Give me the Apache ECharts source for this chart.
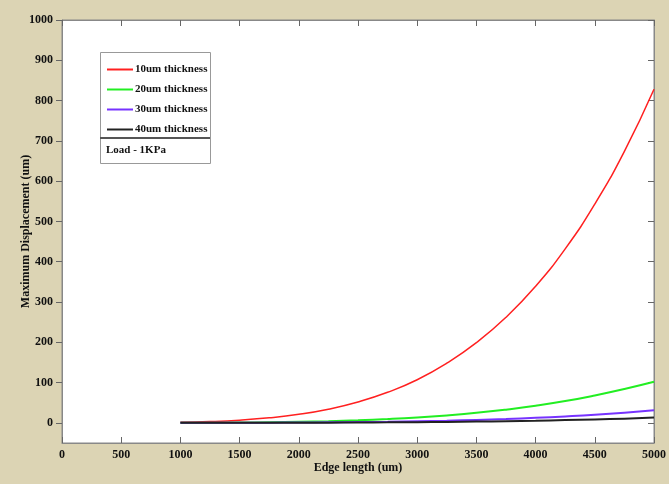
<!DOCTYPE html>
<html>
<head>
<meta charset="utf-8">
<script src="https://cdn.jsdelivr.net/npm/echarts@6/dist/echarts.min.js"></script>
<style>
  html, body { margin: 0; padding: 0; background: #dcd4b4; overflow: hidden; }
  #chart { width: 669px; height: 484px; }
</style>
</head>
<body>
<div id="chart"></div>
<script>
// edge length (um) and max displacement (um) for each thickness
const edgeLength = [1000, 1250, 1500, 1750, 2000, 2250, 2500, 2750, 3000, 3250, 3500, 3750, 4000, 4250, 4500, 4750, 5000];
const t10 = [1.3, 3.2, 6.7, 12.4, 21.2, 34, 51.8, 75.8, 107, 148, 199, 262, 339, 432, 543, 674, 828];
const t20 = [0.2, 0.4, 0.8, 1.6, 2.7, 4.2, 6.5, 9.5, 13.4, 18.5, 24.8, 32.8, 42.4, 54, 68, 84, 102];
const t30 = [0.05, 0.1, 0.25, 0.5, 0.8, 1.3, 1.9, 2.8, 4, 5.5, 7.4, 9.7, 12.6, 16, 20, 25, 31];
const t40 = [0.02, 0.05, 0.1, 0.2, 0.3, 0.5, 0.8, 1.2, 1.7, 2.3, 3.1, 4.1, 5.3, 6.8, 8.5, 10.5, 13];
const seriesNames = ['10um thickness', '20um thickness', '30um thickness', '40um thickness'];
const seriesColors = ['#ff2020', '#22ee22', '#7733ff', '#222222'];
const yTicks = [0, 100, 200, 300, 400, 500, 600, 700, 800, 900, 1000];

const pairs = arr => edgeLength.map((x, i) => [x, arr[i]]);
const font = { fontFamily: 'Liberation Serif', fontWeight: 'bold', fontSize: 12, color: '#111' };
const plain = v => String(v);

const chart = echarts.init(document.getElementById('chart'));
chart.setOption({
  backgroundColor: '#dcd4b4',
  animation: false,
  grid: { left: 62, right: 14, top: 20, bottom: 41, show: true, backgroundColor: '#fff', borderColor: '#888', borderWidth: 1 },
  legend: {
    data: seriesNames, orient: 'vertical', left: 102, top: 59,
    icon: 'rect', itemWidth: 26, itemHeight: 2, itemGap: 9,
    textStyle: Object.assign({}, font, { fontSize: 11, padding: [0, 0, 0, -3] })
  },
  graphic: [
    { type: 'rect', left: 100, top: 52, z: 1, shape: { width: 110, height: 111 }, style: { fill: '#fff', stroke: '#999', lineWidth: 1 } },
    { type: 'line', z: 2, shape: { x1: 100, y1: 138, x2: 210, y2: 138 }, style: { stroke: '#555', lineWidth: 2 } },
    { type: 'text', left: 106, top: 145, z: 2, style: { text: 'Load - 1KPa', fill: '#111', font: 'bold 11px "Liberation Serif"' } }
  ],
  xAxis: [
    {
      type: 'value', min: 0, max: 5000, interval: 500, position: 'bottom',
      name: 'Edge length (um)', nameLocation: 'middle', nameGap: 19, nameMoveOverlap: false, nameTextStyle: font,
      axisLine: { onZero: false, lineStyle: { color: '#888' } },
      axisTick: { inside: true, length: 6, lineStyle: { color: '#666' } },
      axisLabel: Object.assign({ margin: 6, formatter: plain }, font),
      splitLine: { show: false }
    },
    {
      type: 'value', min: 0, max: 5000, interval: 500, position: 'top',
      axisLine: { onZero: false, lineStyle: { color: '#888' } },
      axisTick: { inside: true, length: 6, lineStyle: { color: '#666' } },
      axisLabel: { show: false }, splitLine: { show: false }
    }
  ],
  yAxis: [
    {
      type: 'value', min: -50, max: 1000, position: 'left',
      name: 'Maximum Displacement (um)', nameLocation: 'middle', nameGap: 30, nameMoveOverlap: false, nameTextStyle: font,
      axisLine: { onZero: false, lineStyle: { color: '#888' } },
      axisTick: { inside: false, length: 6, customValues: yTicks, lineStyle: { color: '#666' } },
      axisLabel: Object.assign({ margin: 9, customValues: yTicks, formatter: plain }, font),
      splitLine: { show: false }
    },
    {
      type: 'value', min: -50, max: 1000, position: 'right',
      axisLine: { onZero: false, lineStyle: { color: '#888' } },
      axisTick: { inside: true, length: 6, customValues: yTicks, lineStyle: { color: '#666' } },
      axisLabel: { show: false }, splitLine: { show: false }
    }
  ],
  series: [t10, t20, t30, t40].map((arr, i) => ({
    name: seriesNames[i], type: 'line', data: pairs(arr), smooth: true,
    showSymbol: false, color: seriesColors[i],
    lineStyle: { width: i === 0 ? 1.5 : 2 }
  }))
});
</script>
</body>
</html>
